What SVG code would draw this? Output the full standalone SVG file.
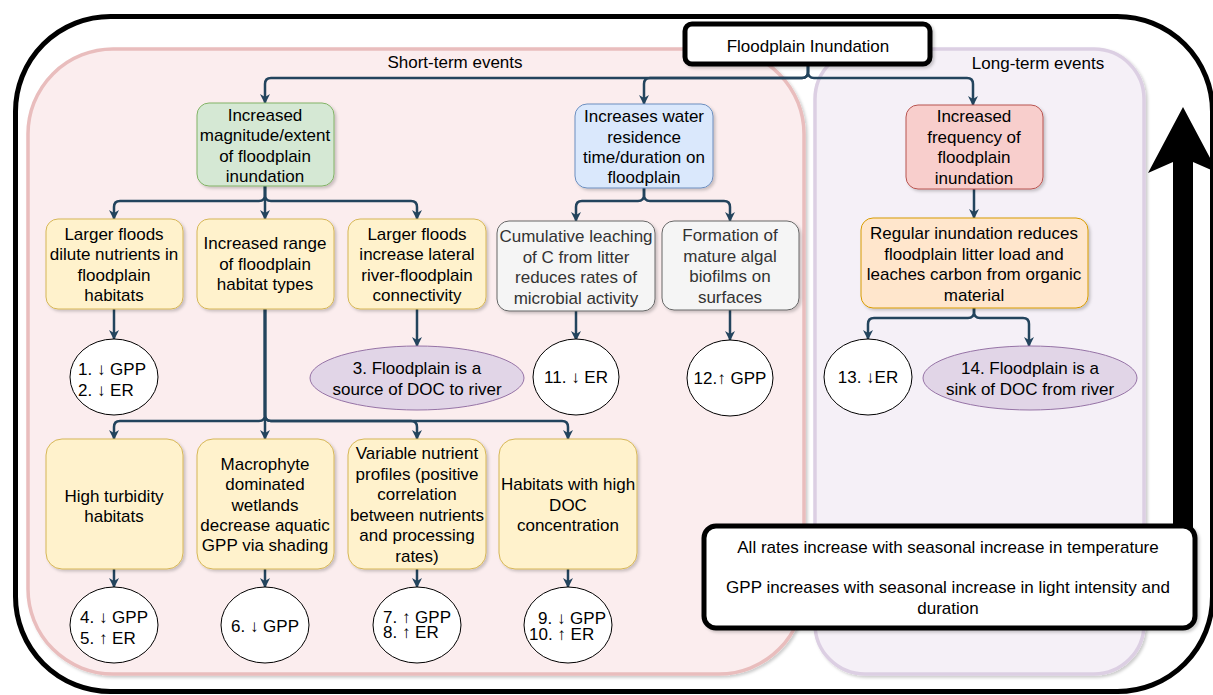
<svg xmlns="http://www.w3.org/2000/svg" width="1213" height="695" viewBox="0 0 1213 695">
<defs>
<style>
text{font-family:"Liberation Sans",Arial,"DejaVu Sans",sans-serif;font-size:17px;fill:#000;text-anchor:middle}
.l{text-anchor:start}
.gt{fill:#333333}
.con{fill:none;stroke:#23445d;stroke-width:2.5;marker-end:url(#ah)}
.yel{fill:#fff2cc;stroke:#d6b656;stroke-width:1}
.gry{fill:#f5f5f5;stroke:#666666;stroke-width:1}
.res{fill:#ffffff;stroke:#000000;stroke-width:1}
.pur{fill:#e1d5e7;stroke:#9673a6;stroke-width:1}
.sh{filter:url(#sh)}
</style>
<filter id="sh" x="-10%" y="-10%" width="130%" height="130%">
<feDropShadow dx="2" dy="2" stdDeviation="1.5" flood-color="#000" flood-opacity="0.2"/>
</filter>
<marker id="ah" viewBox="0 0 10 10" markerWidth="10" markerHeight="10" markerUnits="userSpaceOnUse" refX="9" refY="5" orient="auto">
<path d="M0,0 L10,5 L0,10 L3,5 Z" fill="#23445d"/>
</marker>
</defs>

<rect id="outer" x="15.5" y="16.5" width="1197" height="675" rx="95" fill="#ffffff" stroke="#000" stroke-width="5"/>

<g id="short-term">
<rect x="28" y="49" width="776" height="625" rx="85" fill="#fbedee" stroke="#e9bdbd" stroke-width="3.5" class="sh"/>
<text x="455" y="68">Short-term events</text>
</g>
<g id="long-term">
<rect x="815" y="49" width="329" height="625" rx="50" fill="#f5f0f7" stroke="#dccfe3" stroke-width="3.5" class="sh"/>
<text x="1038" y="69">Long-term events</text>
</g>

<g id="connectors">
<path class="con" d="M808,64 V72 Q808,78 802,78 H271 Q265,78 265,84 V103"/>
<path class="con" d="M808,64 V72 Q808,78 802,78 H650 Q644,78 644,84 V104"/>
<path class="con" d="M808,64 V72 Q808,78 814,78 H967 Q973,78 973,84 V105"/>
<path class="con" d="M265,186 V195 Q265,201 259,201 H120 Q114,201 114,207 V219"/>
<path class="con" d="M265,186 V219"/>
<path class="con" d="M265,186 V195 Q265,201 271,201 H411 Q417,201 417,207 V219"/>
<path class="con" d="M644,188 V195 Q644,201 638,201 H582 Q576,201 576,207 V221"/>
<path class="con" d="M644,188 V195 Q644,201 650,201 H724 Q730,201 730,207 V221"/>
<path class="con" d="M974,189 V218"/>
<path class="con" d="M974,308 V312 Q974,318 968,318 H874 Q868,318 868,324 V339"/>
<path class="con" d="M974,308 V312 Q974,318 980,318 H1023 Q1029,318 1029,324 V346"/>
<path class="con" d="M114,309 V339"/>
<path class="con" d="M417,309 V346"/>
<path class="con" d="M576,311 V340"/>
<path class="con" d="M730,310 V340"/>
<path class="con" d="M265,309 V415 Q265,421 259,421 H120 Q114,421 114,427 V439"/>
<path class="con" d="M265,309 V439"/>
<path class="con" d="M265,309 V415 Q265,421 271,421 H411 Q417,421 417,427 V439"/>
<path class="con" d="M265,309 V415 Q265,421 271,421 H562 Q568,421 568,427 V439"/>
<path class="con" d="M114,569 V587"/>
<path class="con" d="M265,569 V587"/>
<path class="con" d="M417,569 V587"/>
<path class="con" d="M568,569 V587"/>
</g>

<g id="floodplain-inundation">
<rect x="685" y="24" width="245" height="40" rx="7" fill="#fff" stroke="#000" stroke-width="5" class="sh"/>
<text x="808" y="52">Floodplain Inundation</text>
</g>

<g id="magnitude">
<rect x="197" y="103" width="137" height="83" rx="12" fill="#d5e8d4" stroke="#82b366" class="sh"/>
<text x="265" y="121">Increased</text>
<text x="265" y="141">magnitude/extent</text>
<text x="265" y="162">of floodplain</text>
<text x="265" y="182">inundation</text>
</g>
<g id="residence">
<rect x="575" y="104" width="138" height="84" rx="12" fill="#dae8fc" stroke="#6c8ebf" class="sh"/>
<text x="644" y="122">Increases water</text>
<text x="644" y="143">residence</text>
<text x="644" y="163">time/duration on</text>
<text x="644" y="183">floodplain</text>
</g>
<g id="frequency">
<rect x="906" y="105" width="137" height="84" rx="12" fill="#f8cecc" stroke="#b85450" class="sh"/>
<text x="974" y="122">Increased</text>
<text x="974" y="143">frequency of</text>
<text x="974" y="163">floodplain</text>
<text x="974" y="184">inundation</text>
</g>

<g id="dilute">
<rect class="yel sh" x="46" y="219" width="137" height="90" rx="12"/>
<text x="114" y="240">Larger floods</text>
<text x="114" y="260">dilute nutrients in</text>
<text x="114" y="281">floodplain</text>
<text x="114" y="301">habitats</text>
</g>
<g id="range">
<rect class="yel sh" x="197" y="219" width="137" height="90" rx="12"/>
<text x="265" y="249">Increased range</text>
<text x="265" y="270">of floodplain</text>
<text x="265" y="290">habitat types</text>
</g>
<g id="connectivity">
<rect class="yel sh" x="348" y="219" width="138" height="90" rx="12"/>
<text x="417" y="240">Larger floods</text>
<text x="417" y="260">increase lateral</text>
<text x="417" y="281">river-floodplain</text>
<text x="417" y="301">connectivity</text>
</g>
<g id="leaching">
<rect class="gry sh" x="497" y="221" width="158" height="90" rx="12"/>
<text class="gt" x="576" y="242">Cumulative leaching</text>
<text class="gt" x="576" y="263">of C from litter</text>
<text class="gt" x="576" y="283">reduces rates of</text>
<text class="gt" x="576" y="304">microbial activity</text>
</g>
<g id="biofilms">
<rect class="gry sh" x="662" y="221" width="137" height="89" rx="12"/>
<text class="gt" x="730" y="241">Formation of</text>
<text class="gt" x="730" y="262">mature algal</text>
<text class="gt" x="730" y="282">biofilms on</text>
<text class="gt" x="730" y="303">surfaces</text>
</g>
<g id="regular">
<rect x="861" y="218" width="227" height="90" rx="12" fill="#ffe6cc" stroke="#d79b00" class="sh"/>
<text x="974" y="239">Regular inundation reduces</text>
<text x="974" y="260">floodplain litter load and</text>
<text x="974" y="280">leaches carbon from organic</text>
<text x="974" y="301">material</text>
</g>

<g id="r1-2">
<ellipse class="res" cx="114" cy="377" rx="44" ry="38"/>
<text class="l" x="78" y="375">1. ↓ GPP</text>
<text class="l" x="78" y="396">2. ↓ ER</text>
</g>
<g id="r3">
<ellipse class="pur" cx="417" cy="378" rx="107" ry="32"/>
<text x="417" y="374">3. Floodplain is a</text>
<text x="417" y="395">source of DOC to river</text>
</g>
<g id="r11">
<ellipse class="res" cx="576" cy="377" rx="43" ry="38"/>
<text x="576" y="383">11. ↓ ER</text>
</g>
<g id="r12">
<ellipse class="res" cx="730" cy="378" rx="43" ry="38"/>
<text x="730" y="384">12.↑ GPP</text>
</g>
<g id="r13">
<ellipse class="res" cx="868" cy="377" rx="44" ry="38"/>
<text x="868" y="383">13. ↓ER</text>
</g>
<g id="r14">
<ellipse class="pur" cx="1030" cy="378" rx="107" ry="32"/>
<text x="1030" y="374">14. Floodplain is a</text>
<text x="1030" y="395">sink of DOC from river</text>
</g>

<g id="turbidity">
<rect class="yel sh" x="46" y="439" width="137" height="130" rx="16"/>
<text x="114" y="502">High turbidity</text>
<text x="114" y="522">habitats</text>
</g>
<g id="macrophyte">
<rect class="yel sh" x="197" y="439" width="137" height="130" rx="16"/>
<text x="265" y="470">Macrophyte</text>
<text x="265" y="490">dominated</text>
<text x="265" y="511">wetlands</text>
<text x="265" y="531">decrease aquatic</text>
<text x="265" y="551">GPP via shading</text>
</g>
<g id="nutrient-profiles">
<rect class="yel sh" x="348" y="439" width="138" height="130" rx="16"/>
<text x="417" y="459">Variable nutrient</text>
<text x="417" y="480">profiles (positive</text>
<text x="417" y="500">correlation</text>
<text x="417" y="521">between nutrients</text>
<text x="417" y="541">and processing</text>
<text x="417" y="562">rates)</text>
</g>
<g id="high-doc">
<rect class="yel sh" x="499" y="439" width="138" height="130" rx="16"/>
<text x="568" y="490">Habitats with high</text>
<text x="568" y="511">DOC</text>
<text x="568" y="531">concentration</text>
</g>

<g id="r4-5">
<ellipse class="res" cx="114" cy="625" rx="44" ry="38"/>
<text class="l" x="80" y="623">4. ↓ GPP</text>
<text class="l" x="80" y="644">5. ↑ ER</text>
</g>
<g id="r6">
<ellipse class="res" cx="265" cy="625" rx="44" ry="38"/>
<text x="265" y="632">6. ↓ GPP</text>
</g>
<g id="r7-8">
<ellipse class="res" cx="417" cy="625" rx="44" ry="38"/>
<text class="l" x="383" y="623">7. ↑ GPP</text>
<text class="l" x="383" y="638">8. ↑ ER</text>
</g>
<g id="r9-10">
<ellipse class="res" cx="568" cy="625" rx="44" ry="38"/>
<text class="l" x="538" y="624">9. ↓ GPP</text>
<text class="l" x="529" y="640">10. ↑ ER</text>
</g>

<g id="seasonal-arrow">
<path d="M1183,107 L1218,173 L1193,162 L1193,530 L1173,530 L1173,162 L1148,173 Z" fill="#000"/>
</g>

<g id="legend">
<rect x="704" y="526" width="491" height="102" rx="12" fill="#fff" stroke="#000" stroke-width="5" class="sh"/>
<text x="948" y="553">All rates increase with seasonal increase in temperature</text>
<text x="948" y="593">GPP increases with seasonal increase in light intensity and</text>
<text x="948" y="614">duration</text>
</g>
</svg>
